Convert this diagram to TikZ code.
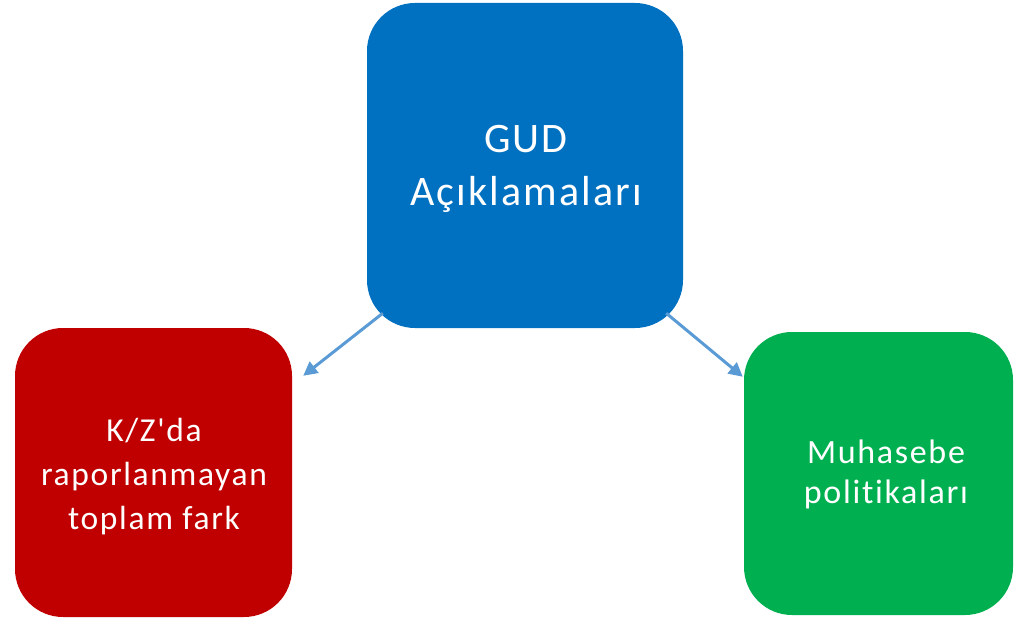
\documentclass[tikz,border=0pt]{standalone}
\usepackage{fontspec}
\setmainfont{Carlito}[Ligatures={TeXOff,CommonOff}, LetterSpace=5]
\usetikzlibrary{calc,arrows.meta}
\definecolor{cblue}{HTML}{0070C0}
\definecolor{cred}{HTML}{C00000}
\definecolor{cgreen}{HTML}{00B050}
\definecolor{carrow}{HTML}{5B9BD5}
\tikzset{
  card/.style={rounded corners=48pt, inner sep=0pt},
  lbl/.style={inner sep=0pt, text=white, align=center, anchor=base},
  conn/.style={draw=carrow, line width=3pt, -{Triangle[length=14pt,width=14pt]}},
}
\begin{document}
\begin{tikzpicture}[x=1pt,y=-1pt]
\useasboundingbox (0,0) rectangle (1014,620);
\node[card, fill=cblue, minimum width=316pt, minimum height=325pt] (gud) at (525,165.5) {};
\node[card, fill=cred, minimum width=277pt, minimum height=289pt] (kz) at (153.5,472.5) {};
\node[card, fill=cgreen, minimum width=269pt, minimum height=283pt] (muh) at (878.5,473.5) {};
\node[lbl, font=\fontsize{42}{53}\selectfont] (gudt) at (526,206) {GUD\\Açıklamaları};
\node[lbl, font=\fontsize{33.5}{44}\selectfont] (kzt) at (154,529) {K/Z'da\\raporlanmayan\\toplam fark};
\node[lbl, font=\fontsize{34}{40}\selectfont] (muht) at (886,503) {Muhasebe\\politikaları};
\draw[conn] ($(gud.south west)+(16,-15)$) -- ($(kz.north east)+(11,48)$);
\draw[conn] ($(gud.south east)+(-17,-15)$) -- ($(muh.north west)+(-1,45)$);
\end{tikzpicture}
\end{document}
